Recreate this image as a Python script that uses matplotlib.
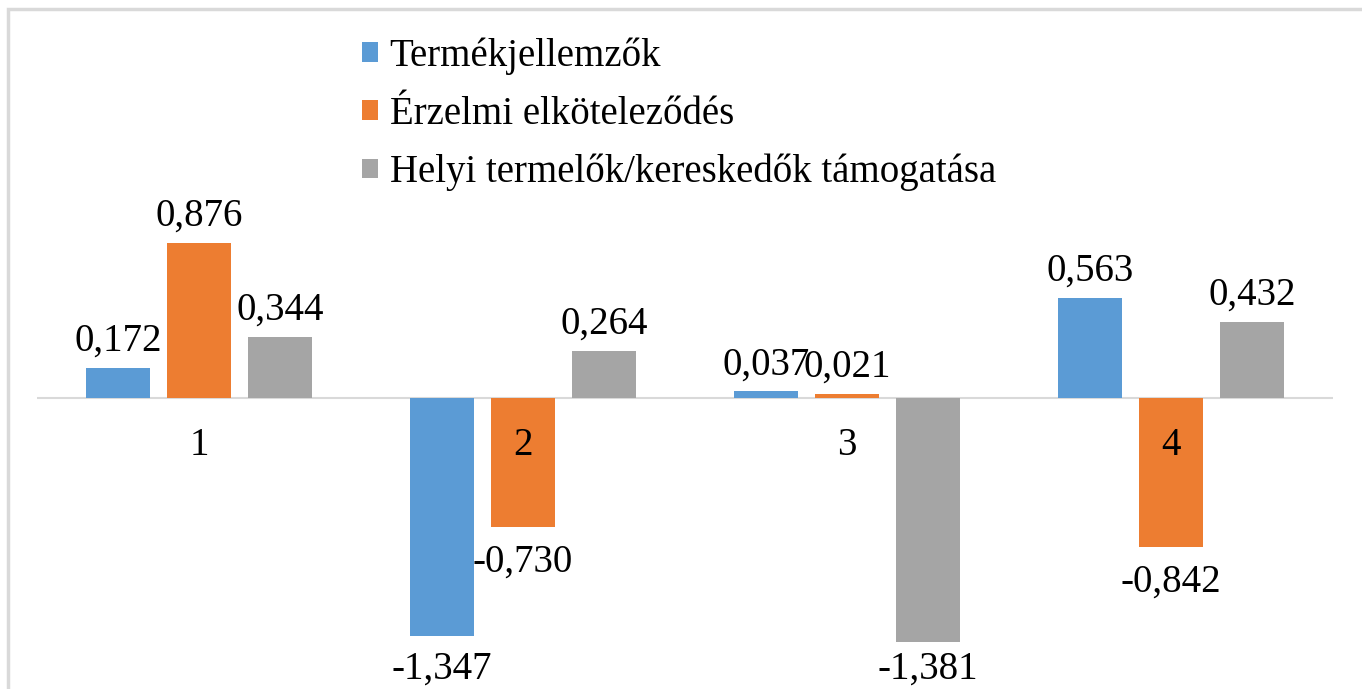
import numpy as np
import matplotlib.pyplot as plt
from matplotlib.patches import Rectangle

plt.rcParams['font.family'] = ['Liberation Serif', 'DejaVu Serif']

categories = ['1', '2', '3', '4']
series_names = ['Termékjellemzők', 'Érzelmi elköteleződés', 'Helyi termelők/kereskedők támogatása']
termek = [0.172, -1.347, 0.037, 0.563]
erzelmi = [0.876, -0.730, 0.021, -0.842]
helyi = [0.344, 0.264, -1.381, 0.432]
colors = ['#5B9BD5', '#ED7D31', '#A5A5A5']

W, H = 1362, 689
fig = plt.figure(figsize=(W / 100, H / 100), dpi=100)

# light frame around the chart area (left and top edges visible)
fig.patches.append(Rectangle((8 / W, -0.1), 1.2, 1 - 9 / H + 0.1, transform=fig.transFigure,
                             fill=False, edgecolor='#D9D9D9', linewidth=2.5))

ax = fig.add_axes([37 / W, 0, 1296 / W, (H - 9) / H])
ax.set_xlim(-0.5, 3.5)
ax.set_ylim(-1.644, 2.198)
ax.axis('off')

# labels of negative bars are kept inside the chart area (like Excel does)
label_floor = -1.335

x = np.arange(len(categories))
offsets = [-0.25, 0, 0.25]
for vals, name, col, off in zip([termek, erzelmi, helyi], series_names, colors, offsets):
    bars = ax.bar(x + off, vals, 0.2, color=col, label=name, zorder=2)
    for xi, v in zip(x + off, vals):
        lab = ('%.3f' % v).replace('.', ',')
        if v >= 0:
            ax.annotate(lab, (xi, v), xytext=(0, 6), textcoords='offset points',
                        ha='center', va='bottom', fontsize=28, zorder=4)
        else:
            ax.annotate(lab, (xi, max(v, label_floor)), xytext=(0, -12), textcoords='offset points',
                        ha='center', va='top', fontsize=28, zorder=4)

ax.axhline(0, xmin=0, xmax=1.002, color='#D9D9D9', linewidth=1.5, zorder=1)

for xi, c in zip(x, categories):
    ax.annotate(c, (xi, 0), xytext=(0, -21), textcoords='offset points',
                ha='center', va='top', fontsize=28, zorder=3)

fig.legend(loc='upper left', bbox_to_anchor=(343 / W, 1 - 18 / H), frameon=False,
           fontsize=28, handlelength=0.4, handleheight=0.4, handletextpad=0.3,
           labelspacing=0.54, borderpad=0)

fig.savefig('out.png', dpi=100)
